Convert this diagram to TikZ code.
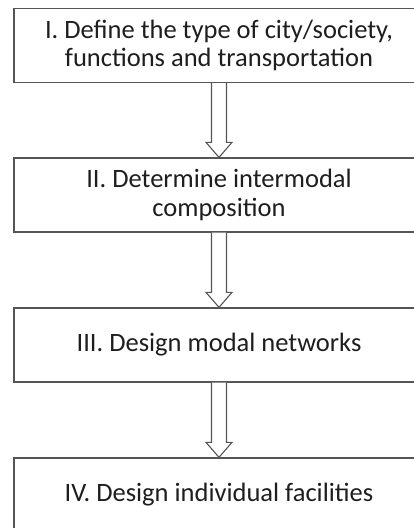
\documentclass[tikz,border=0pt]{standalone}
\usepackage{fontspec}
\setmainfont{Carlito}
\usetikzlibrary{calc}
\definecolor{edge}{RGB}{85,85,85}
\definecolor{ink}{RGB}{30,30,30}
\tikzset{
  stepbox/.style={draw=edge, line width=1.3pt, fill=white, minimum width=410pt,
    minimum height=74pt, inner sep=0pt, align=center, text=ink,
    font=\fontsize{26.5}{28.5}\selectfont},
  hollowarrow/.style={draw=edge, line width=1.1pt, fill=white, line join=miter},
}
% hollow block arrow from the bottom of one box to the top of the next
\newcommand\blockarrow[2]{%
  \draw[hollowarrow]
    ($(#1.south)+(-7.5pt,0)$) -- ($(#2.north)+(-7.5pt,15pt)$)
    -- ($(#2.north)+(-13pt,15pt)$) -- (#2.north)
    -- ($(#2.north)+(13pt,15pt)$) -- ($(#2.north)+(7.5pt,15pt)$)
    -- ($(#1.south)+(7.5pt,0)$);}
\begin{document}
\begin{tikzpicture}[x=1pt,y=1pt]
  \useasboundingbox (0,0) rectangle (414,-528);
  \clip (0,0) rectangle (414,-528);
  \node[stepbox] (s1) at (219,-45.5) {I. Define the type of city/society,\\functions and transportation};
  \node[stepbox] (s2) at (219,-195) {II. Determine intermodal\\composition};
  \node[stepbox] (s3) at (219,-345) {III. Design modal networks};
  \node[stepbox] (s4) at (219,-495) {IV. Design individual facilities};
  \blockarrow{s1}{s2}
  \blockarrow{s2}{s3}
  \blockarrow{s3}{s4}
\end{tikzpicture}
\end{document}
